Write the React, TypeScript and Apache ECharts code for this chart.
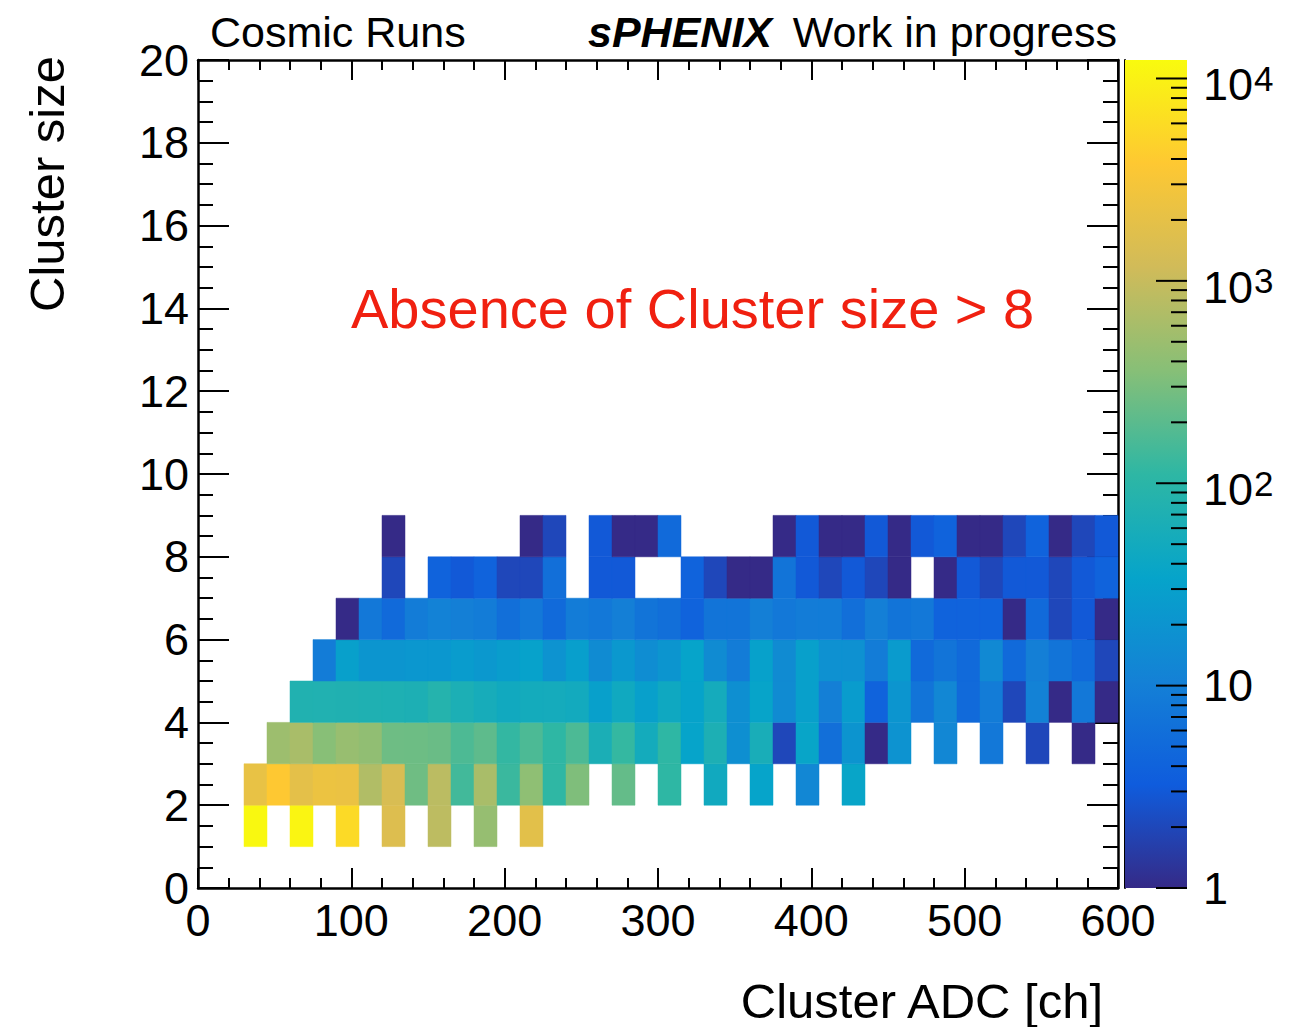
import React, { useEffect, useRef } from 'react';
import * as echarts from 'echarts';

const _ = null;

// x binning: 40 bins of 15 ADC channels from 0 to 600
const BIN_WIDTH = 15;

// counts per ADC bin (index 0..39), one array per cluster size; null = empty bin
const size1 = [
  _, _, 11500, _, 10800, _, 5700, _, 1600, _,
  850, _, 455, _, 1850, _, _, _, _, _,
  _, _, _, _, _, _, _, _, _, _,
  _, _, _, _, _, _, _, _, _, _,
];
const size2 = [
  _, _, 2150, 3830, 1900, 2400, 2300, 700, 1420, 263,
  820, 145, 615, 130, 410, 112, 325, _, 228, _,
  110, _, 48, _, 34, _, 13, _, 36, _,
  _, _, _, _, _, _, _, _, _, _,
];
const size3 = [
  _, _, _, 515, 620, 365, 470, 420, 258, 255,
  245, 168, 210, 118, 165, 110, 165, 64, 120, 52,
  110, 34, 68, 17, 60, 2, 36, 6, 20, 1,
  19, _, 13, _, 8, _, 2, _, 1, _,
];
const size4 = [
  _, _, _, _, 76, 75, 74, 72, 70, 68,
  85, 66, 56, 48, 52, 53, 50, 30, 46, 30,
  45, 33, 53, 17, 35, 15, 30, 10, 26, 4,
  21, 7, 13, 5, 9, 2, 11, 1, 8, 1,
];
const size5 = [
  _, _, _, _, _, 9, 30, 21, 21, 22,
  22, 26, 23, 27, 32, 19, 29, 15, 23, 16,
  21, 34, 15, 9, 31, 15, 30, 18, 18, 9,
  25, 5, 7, 5, 14, 5, 10, 7, 5, 2,
];
const size6 = [
  _, _, _, _, _, _, 1, 8, 5, 9,
  11, 10, 9, 6, 8, 5, 9, 8, 10, 7,
  6, 4, 7, 7, 10, 8, 9, 9, 6, 10,
  7, 8, 4, 4, 4, 1, 5, 2, 3, 1,
];
const size7 = [
  _, _, _, _, _, _, _, _, 2, _,
  4, 3, 4, 2, 2, 6, _, 3, 3, _,
  _, 4, 2, 1, 1, 7, 3, 2, 3, 2,
  1, _, 1, 3, 2, 3, 3, 2, 3, 4,
];
const size8 = [
  _, _, _, _, _, _, _, _, 1, _,
  _, _, _, _, 1, 2, _, 3, 1, 1,
  5, _, _, _, _, 1, 3, 1, 1, 3,
  1, 3, 4, 1, 1, 2, 4, 1, 2, 3,
];
const clusterRows = [size1, size2, size3, size4, size5, size6, size7, size8];

// z (colour) axis range
const Z_MIN = 1;
const Z_MAX = 12340;
const CB_MAJOR = [1, 10, 100, 1000, 10000];
const CB_MINOR: number[] = [];
for (const dec of [1, 10, 100, 1000]) for (let k = 2; k <= 9; k++) CB_MINOR.push(k * dec);

// ROOT kBird palette
const PALETTE = ['#352a87', '#0f5cdd', '#1481d6', '#06a4ca', '#2eb7a4', '#87bf77', '#d1bb59', '#fec832', '#f9fb0e'];

const FONT = "'Liberation Sans', Arial, Helvetica, sans-serif";

export default function App() {
  const ref = useRef<HTMLDivElement>(null);
  useEffect(() => {
    if (!ref.current) return;
    const chart = echarts.init(ref.current, undefined, { renderer: 'svg' });

    const cells: number[][] = [];
    clusterRows.forEach((row, r) => {
      row.forEach((c, i) => {
        if (c != null) cells.push([i * BIN_WIDTH, (i + 1) * BIN_WIDTH, r + 1, r + 2, c, Math.log10(c)]);
      });
    });

    const black = '#000';
    const frameAxis = (extra: any) => ({
      axisLine: { show: true, onZero: false, lineStyle: { color: black, width: 2.5 } },
      splitLine: { show: false },
      minorSplitLine: { show: false },
      ...extra,
    });

    const option: any = {
      animation: false,
      grid: [
        { left: 198, top: 60, width: 920, height: 828 },
        { left: 1125, top: 60, width: 62, height: 828 },
      ],
      xAxis: [
        frameAxis({
          gridIndex: 0, type: 'value', min: 0, max: 600, interval: 100, position: 'bottom',
          axisTick: { show: true, inside: true, length: 20, lineStyle: { color: black, width: 2 } },
          minorTick: { show: true, splitNumber: 5, length: 10, lineStyle: { color: black, width: 2 } },
          axisLabel: { show: true, margin: 10, fontSize: 45, color: black, fontFamily: FONT },
        }),
        frameAxis({
          gridIndex: 0, type: 'value', min: 0, max: 600, interval: 100, position: 'top',
          axisTick: { show: true, inside: true, length: 20, lineStyle: { color: black, width: 2 } },
          minorTick: { show: true, splitNumber: 5, length: 10, lineStyle: { color: black, width: 2 } },
          axisLabel: { show: false },
        }),
        { gridIndex: 1, type: 'value', min: 0, max: 1, show: false },
      ],
      yAxis: [
        frameAxis({
          gridIndex: 0, type: 'value', min: 0, max: 20, interval: 2, position: 'left',
          axisTick: { show: true, inside: true, length: 31, lineStyle: { color: black, width: 2 } },
          minorTick: { show: true, splitNumber: 4, length: 15, lineStyle: { color: black, width: 2 } },
          axisLabel: { show: true, margin: 9, fontSize: 45, color: black, fontFamily: FONT },
        }),
        frameAxis({
          gridIndex: 0, type: 'value', min: 0, max: 20, interval: 2, position: 'right',
          axisTick: { show: true, inside: true, length: 31, lineStyle: { color: black, width: 2 } },
          minorTick: { show: true, splitNumber: 4, length: 15, lineStyle: { color: black, width: 2 } },
          axisLabel: { show: false },
        }),
        {
          gridIndex: 1, type: 'log', logBase: 10, min: Z_MIN, max: Z_MAX, position: 'right',
          axisLine: { show: true, lineStyle: { color: black, width: 2 } },
          axisTick: { show: false },
          splitLine: { show: false },
          axisLabel: {
            show: true, margin: 16, showMaxLabel: false, color: black, fontSize: 45, fontFamily: FONT,
            formatter: (v: number) => {
              const e = Math.round(Math.log10(v));
              if (e === 0) return '1';
              if (e === 1) return '10';
              return '{b|10}{s|' + e + '}';
            },
            rich: {
              b: { fontSize: 45, fontFamily: FONT, color: black, lineHeight: 45, verticalAlign: 'bottom' },
              s: { fontSize: 35, fontFamily: FONT, color: black, lineHeight: 58, verticalAlign: 'middle', padding: [0, 0, 0, 1] },
            },
          },
        },
      ],
      visualMap: {
        type: 'continuous', show: false, seriesIndex: 0, dimension: 5,
        min: 0, max: Math.log10(Z_MAX), inRange: { color: PALETTE },
      },
      series: [
        {
          type: 'custom', xAxisIndex: 0, yAxisIndex: 0, data: cells,
          encode: { x: [0, 1], y: [2, 3] },
          renderItem: (params: any, api: any) => {
            const p0 = api.coord([api.value(0), api.value(2)]);
            const p1 = api.coord([api.value(1), api.value(3)]);
            const color = api.visual('color');
            return {
              type: 'rect',
              shape: { x: p0[0], y: p1[1], width: p1[0] - p0[0], height: p0[1] - p1[1] },
              style: { fill: color, stroke: color, lineWidth: 0.5 },
            };
          },
        },
        {
          type: 'custom', xAxisIndex: 2, yAxisIndex: 2, data: [[0, Z_MIN, 1, Z_MAX]],
          renderItem: (params: any, api: any) => {
            const p0 = api.coord([api.value(0), api.value(1)]);
            const p1 = api.coord([api.value(2), api.value(3)]);
            return {
              type: 'rect',
              shape: { x: p0[0], y: p1[1], width: p1[0] - p0[0], height: p0[1] - p1[1] },
              style: {
                fill: new echarts.graphic.LinearGradient(0, 1, 0, 0,
                  PALETTE.map((c, i) => ({ offset: i / (PALETTE.length - 1), color: c }))),
              },
            };
          },
        },
        {
          type: 'custom', xAxisIndex: 2, yAxisIndex: 2, data: CB_MAJOR.map((v) => [1, v]),
          renderItem: (params: any, api: any) => {
            const p = api.coord([api.value(0), api.value(1)]);
            return { type: 'line', shape: { x1: p[0], y1: p[1], x2: p[0] - 31, y2: p[1] }, style: { stroke: black, lineWidth: 2 } };
          },
        },
        {
          type: 'custom', xAxisIndex: 2, yAxisIndex: 2, data: CB_MINOR.map((v) => [1, v]),
          renderItem: (params: any, api: any) => {
            const p = api.coord([api.value(0), api.value(1)]);
            return { type: 'line', shape: { x1: p[0], y1: p[1], x2: p[0] - 16, y2: p[1] }, style: { stroke: black, lineWidth: 2 } };
          },
        },
      ],
      graphic: [
        { type: 'text', x: 210, y: 32, style: { text: 'Cosmic Runs', fill: black, fontSize: 43, fontFamily: FONT, align: 'left', verticalAlign: 'middle' } },
        { type: 'text', x: 588, y: 32, style: { text: 'sPHENIX', fill: black, fontSize: 43, fontWeight: 'bold', fontStyle: 'italic', fontFamily: FONT, align: 'left', verticalAlign: 'middle' } },
        { type: 'text', x: 1117, y: 32, style: { text: 'Work in progress', fill: black, fontSize: 43, fontFamily: FONT, align: 'right', verticalAlign: 'middle' } },
        { type: 'text', x: 351, y: 308, style: { text: 'Absence of Cluster size > 8', fill: '#f02010', fontSize: 56, fontFamily: FONT, align: 'left', verticalAlign: 'middle' } },
        { type: 'text', x: 1103, y: 1001, style: { text: 'Cluster ADC [ch]', fill: black, fontSize: 49, fontFamily: FONT, align: 'right', verticalAlign: 'middle' } },
        { type: 'text', x: 47, y: 56, rotation: Math.PI / 2, style: { text: 'Cluster size', fill: black, fontSize: 49, fontFamily: FONT, align: 'right', verticalAlign: 'middle' } },
      ],
    };

    chart.setOption(option);
    return () => chart.dispose();
  }, []);

  return <div ref={ref} style={{ position: 'absolute', left: 0, top: 0, width: 1302, height: 1027, background: '#fff' }} />;
}
